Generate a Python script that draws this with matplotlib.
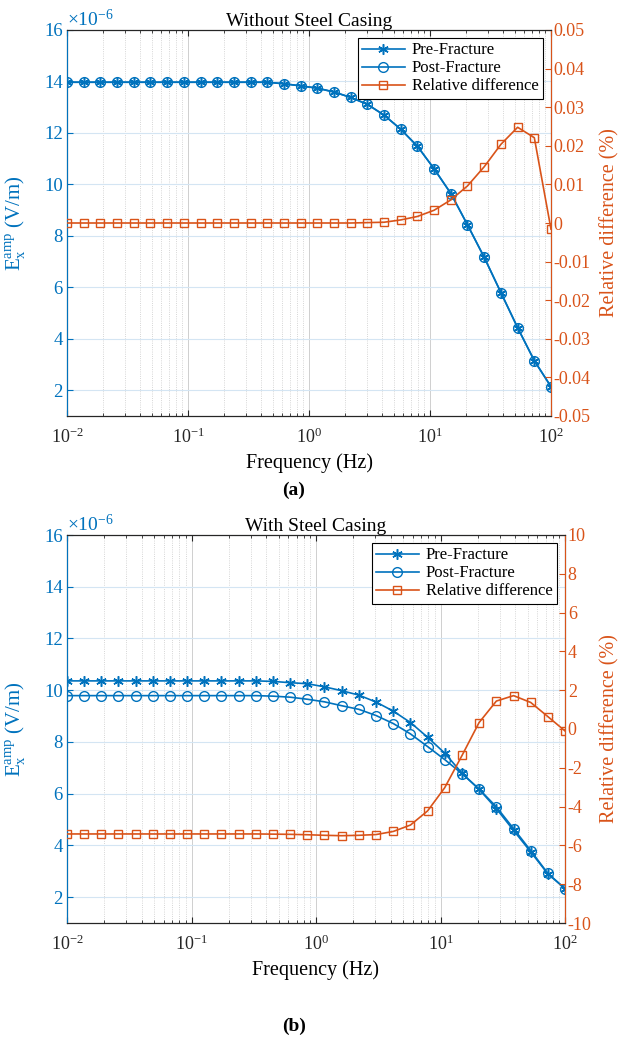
import matplotlib
matplotlib.use("Agg")
import matplotlib.pyplot as plt
from matplotlib.markers import MarkerStyle

BLUE = "#0072BD"
ORANGE = "#D95319"
FONT = "Liberation Serif"

plt.rcParams.update({
    "font.family": FONT,
    "mathtext.fontset": "custom",
    "mathtext.rm": FONT,
    "mathtext.it": FONT + ":italic",
    "mathtext.bf": FONT + ":bold",
    "axes.unicode_minus": False,
    "font.size": 13,
})

# frequencies (Hz), 30 log-spaced points
freq = [0.01, 0.0137, 0.0189, 0.0259, 0.0356, 0.0489, 0.0672, 0.0924, 0.127, 0.174,
        0.240, 0.329, 0.452, 0.621, 0.853, 1.17, 1.61, 2.21, 3.04, 4.18,
        5.74, 7.88, 10.8, 14.9, 20.4, 28.1, 38.6, 53.0, 72.8, 100.0]

# (a) without steel casing, E_x amplitude in 1e-6 V/m
a_pre = [13.97, 13.97, 13.97, 13.97, 13.97, 13.97, 13.97, 13.97, 13.97, 13.97,
         13.97, 13.97, 13.97, 13.91, 13.83, 13.74, 13.59, 13.38, 13.11, 12.69,
         12.14, 11.48, 10.61, 9.64, 8.43, 7.16, 5.79, 4.43, 3.15, 2.14]
a_post = [13.97, 13.97, 13.97, 13.97, 13.97, 13.97, 13.97, 13.97, 13.97, 13.97,
          13.97, 13.97, 13.97, 13.91, 13.83, 13.74, 13.59, 13.38, 13.11, 12.69,
          12.14, 11.48, 10.61, 9.64, 8.43, 7.16, 5.79, 4.43, 3.15, 2.14]
a_rel = [0.0, 0.0, 0.0, 0.0, 0.0, 0.0, 0.0, 0.0, 0.0, 0.0,
         0.0, 0.0, 0.0, 0.0, 0.0, 0.0, 0.0, 0.0, 0.0001, 0.0002,
         0.0008, 0.0017, 0.0033, 0.0060, 0.0096, 0.0146, 0.0204, 0.0248, 0.0221, -0.0016]
a_rticks = [-0.05, -0.04, -0.03, -0.02, -0.01, 0, 0.01, 0.02, 0.03, 0.04, 0.05]

# (b) with steel casing
b_pre = [10.36, 10.36, 10.36, 10.36, 10.36, 10.36, 10.36, 10.36, 10.36, 10.36,
         10.36, 10.36, 10.34, 10.29, 10.25, 10.13, 9.98, 9.81, 9.54, 9.19,
         8.75, 8.18, 7.57, 6.79, 6.17, 5.42, 4.58, 3.75, 2.90, 2.33]
b_post = [9.79, 9.79, 9.79, 9.79, 9.79, 9.79, 9.79, 9.79, 9.79, 9.79,
          9.79, 9.79, 9.77, 9.73, 9.65, 9.55, 9.40, 9.26, 9.02, 8.71,
          8.31, 7.82, 7.32, 6.77, 6.18, 5.49, 4.65, 3.80, 2.92, 2.33]
b_rel = [-5.41, -5.41, -5.41, -5.41, -5.41, -5.41, -5.41, -5.41, -5.41, -5.41,
         -5.41, -5.41, -5.42, -5.43, -5.45, -5.48, -5.50, -5.48, -5.44, -5.28,
         -4.95, -4.22, -3.03, -1.36, 0.33, 1.44, 1.72, 1.37, 0.64, -0.10]
b_rticks = [-10, -8, -6, -4, -2, 0, 2, 4, 6, 8, 10]

left_ticks = [2, 4, 6, 8, 10, 12, 14, 16]

ASTERISK = MarkerStyle((6, 2, 0))


def panel(fig, rect, title, pre, post, rel, rticks, llabel_x, rlabel_x):
    ax = fig.add_axes(rect)
    ax.set_xscale("log")
    ax.set_xlim(1e-2, 1e2)
    ax.set_ylim(1, 16)
    ax.set_yticks(left_ticks)

    ax.grid(True, which="major", axis="x", color="#c8c8c8", lw=0.6)
    ax.grid(True, which="minor", axis="x", color="#c8c8c8", lw=0.6, ls=":")
    ax.grid(True, which="major", axis="y", color="#d4e5f3", lw=0.8)
    ax.set_axisbelow(True)

    l1, = ax.plot(freq, pre, color=BLUE, lw=1.2, marker=ASTERISK, ms=7.5,
                  mew=1.1, label="Pre-Fracture", zorder=3)
    l2, = ax.plot(freq, post, color=BLUE, lw=1.2, marker="o", ms=7,
                  mfc="none", mew=1.0, label="Post-Fracture", zorder=3)

    ax2 = ax.twinx()
    l3, = ax2.plot(freq, rel, color=ORANGE, lw=1.2, marker="s", ms=6,
                   mfc="none", mew=1.0, label="Relative difference", zorder=3)
    ax2.set_ylim(rticks[0], rticks[-1])
    ax2.set_yticks(rticks)
    ax2.set_yticklabels([f"{t:g}" for t in rticks])

    ax.set_title(title, fontsize=14, pad=2)
    ax.set_xlabel("Frequency (Hz)", fontsize=14.5, labelpad=5)
    ax.set_ylabel(r"$\mathregular{E_x^{amp}}$ (V/m)", color=BLUE, fontsize=15)
    ax.yaxis.set_label_coords(llabel_x, 0.5)
    ax2.set_ylabel("Relative difference (%)", color=ORANGE, fontsize=14.5)
    ax2.yaxis.set_label_coords(rlabel_x, 0.5)

    ax.tick_params(axis="x", which="both", direction="in", top=True, colors="#262626",
                   labelsize=13, pad=8)
    ax.tick_params(axis="x", which="major", length=4)
    ax.tick_params(axis="x", which="minor", length=2.5)
    ax.tick_params(axis="y", direction="in", colors=BLUE, labelsize=13.5, length=4, pad=3)
    ax2.tick_params(axis="y", direction="in", colors=ORANGE, labelsize=13, length=4, pad=2)

    for s in ("top", "bottom"):
        ax2.spines[s].set_color("#262626")
    ax2.spines["left"].set_color(BLUE)
    ax2.spines["right"].set_color(ORANGE)
    for s in ax2.spines.values():
        s.set_linewidth(0.8)

    leg = ax2.legend([l1, l2, l3], [l1.get_label(), l2.get_label(), l3.get_label()],
                     loc="upper right", fontsize=12, fancybox=False, framealpha=1,
                     edgecolor="black", borderpad=0.25, labelspacing=0.12,
                     handlelength=2.6, handletextpad=0.4, borderaxespad=0.5)
    leg.get_frame().set_linewidth(0.8)

    ax.text(0.0, 1.0, r"$\times\mathregular{10^{-6}}$", transform=ax.transAxes,
            color=BLUE, fontsize=14, ha="left", va="bottom")
    return ax


fig = plt.figure(figsize=(6.21, 10.39), dpi=100)

panel(fig, [67 / 621, 1 - 416 / 1039, (551 - 67) / 621, (416 - 30) / 1039],
      "Without Steel Casing", a_pre, a_post, a_rel, a_rticks, -0.081, 1.101)
panel(fig, [67 / 621, 1 - 923 / 1039, (565 - 67) / 621, (923 - 535) / 1039],
      "With Steel Casing", b_pre, b_post, b_rel, b_rticks, -0.079, 1.070)

fig.text(294 / 621, 1 - 490 / 1039, "(a)", ha="center", va="center",
         fontsize=14, fontweight="bold")
fig.text(294 / 621, 1 - 1026 / 1039, "(b)", ha="center", va="center",
         fontsize=14, fontweight="bold")

fig.savefig("out.png", dpi=100)
